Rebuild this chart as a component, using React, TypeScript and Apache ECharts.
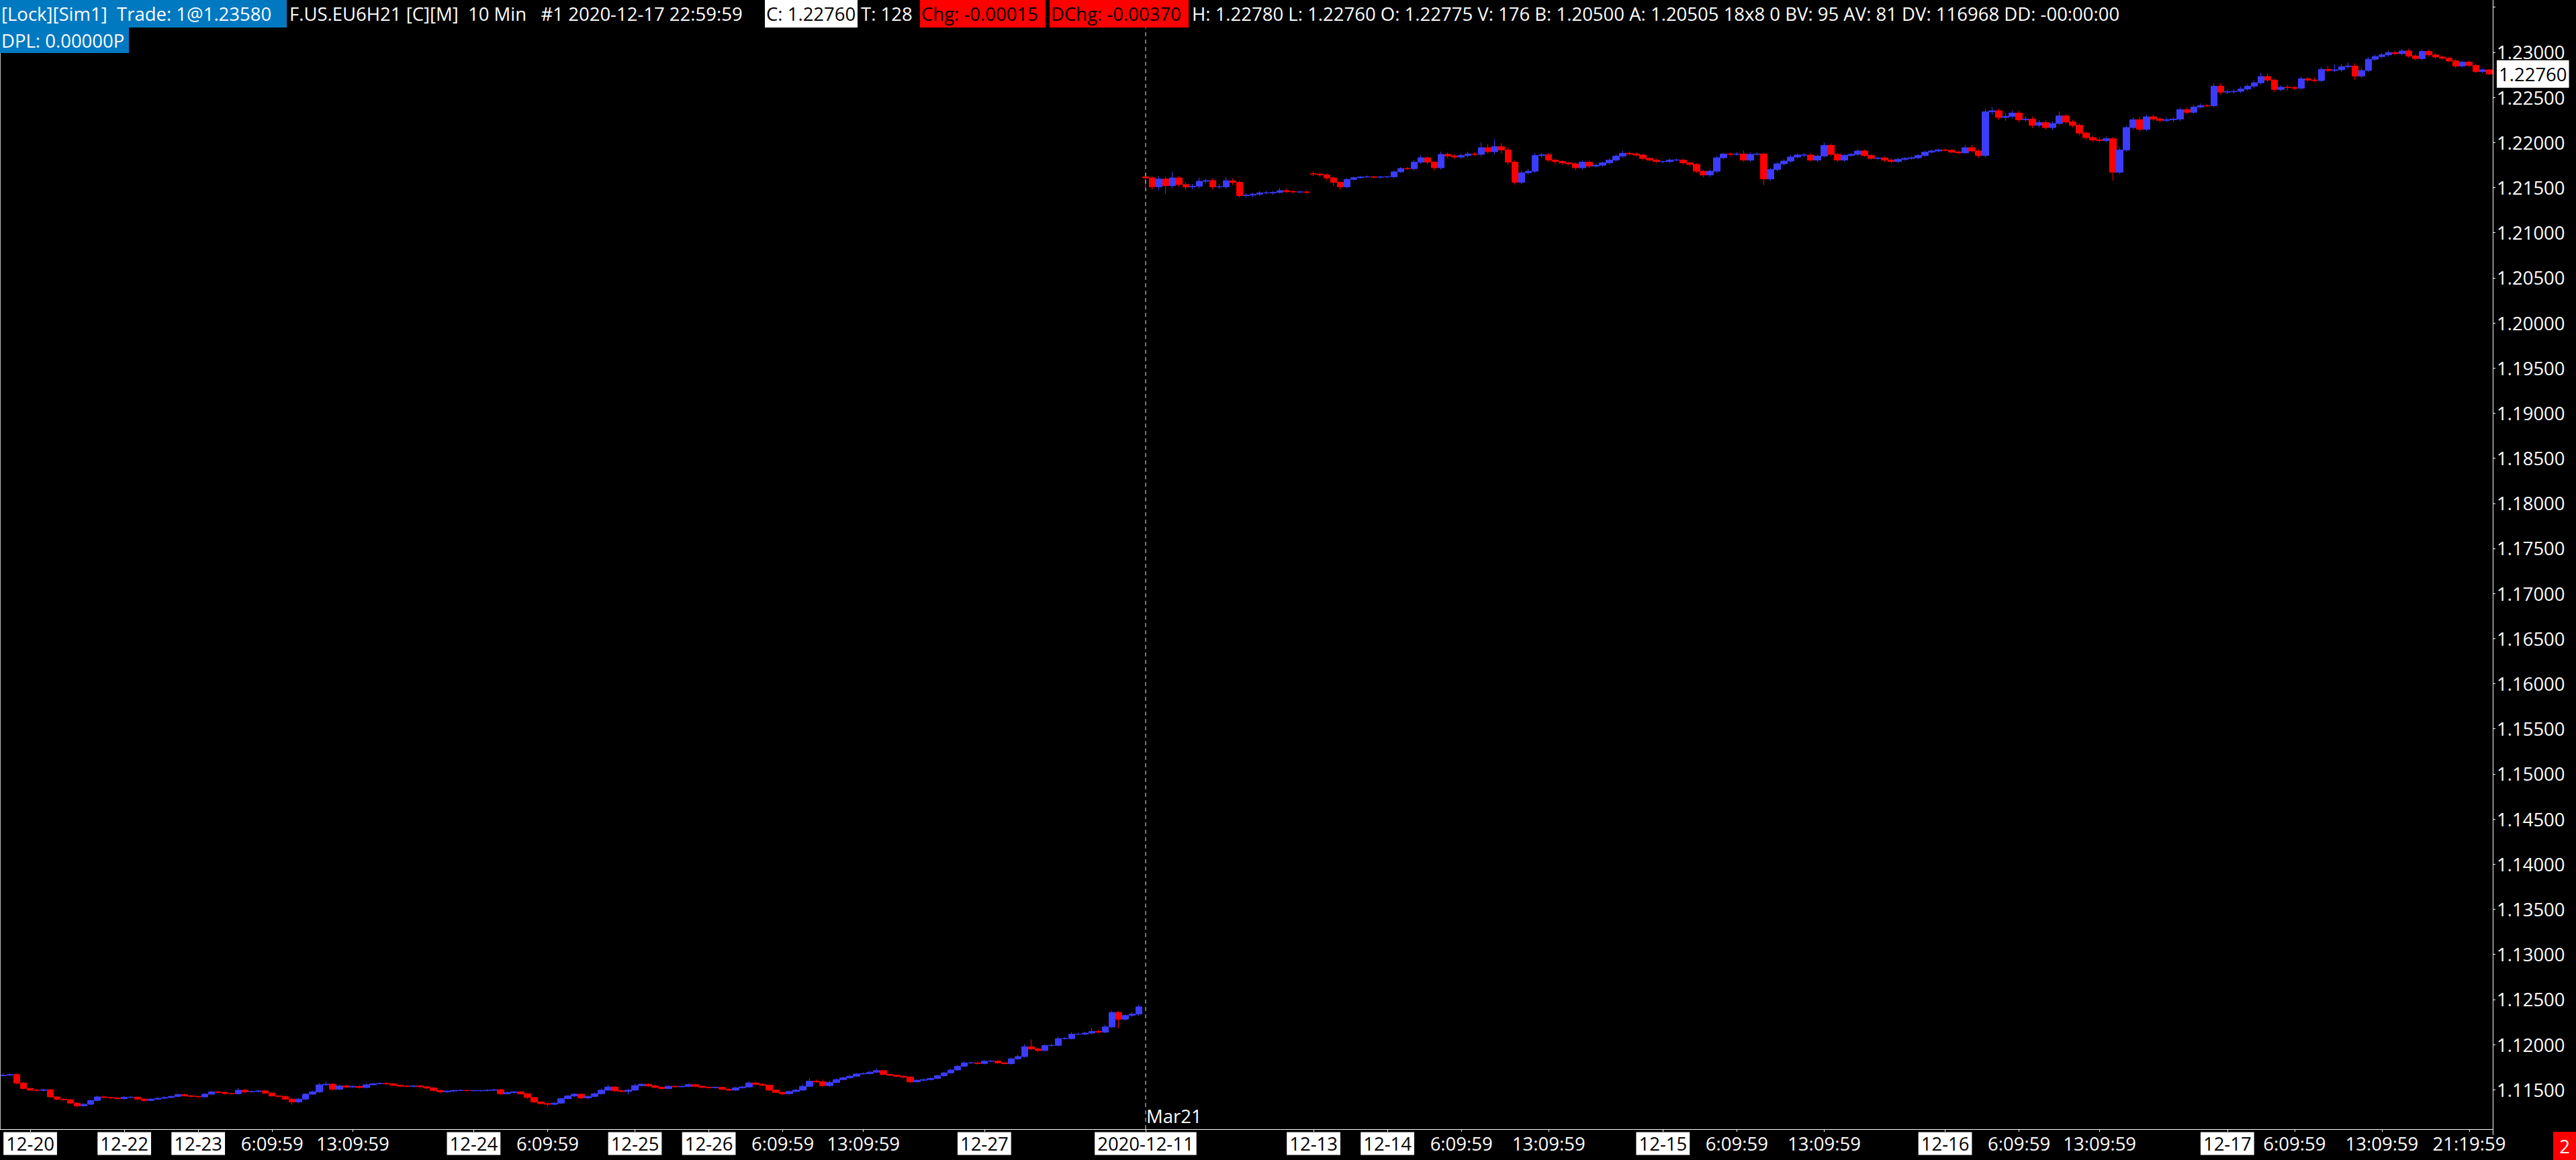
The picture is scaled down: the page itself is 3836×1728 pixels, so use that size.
import React, { useEffect, useRef } from "react";
import * as echarts from "echarts";

const FONT = "'Open Sans', 'DejaVu Sans', sans-serif";
const FS = 27.5;

// Prices in units of 0.00001 above 1.00000 (e.g. 11661 = 1.11661)
const opens = [
  11655,11661,11668,11574,11512,11494,11492,11499,11420,11395,
  11388,11351,11321,11338,11380,11420,11413,11408,11400,11415,
  11417,11395,11380,11395,11405,11413,11425,11445,11432,11425,
  11420,11450,11475,11470,11457,11455,11494,11475,11480,11487,
  11462,11430,11425,11395,11363,11395,11450,11475,11554,11561,
  11504,11541,11529,11537,11524,11554,11566,11569,11564,11549,
  11539,11537,11541,11532,11519,11492,11475,11484,11492,11492,
  11489,11489,11489,11494,11499,11455,11467,11475,11455,11413,
  11363,11346,11338,11351,11400,11430,11450,11408,11425,11455,
  11495,11530,11488,11480,11495,11545,11560,11542,11525,11512,
  11537,11532,11537,11555,11537,11525,11522,11525,11505,11495,
  11520,11530,11574,11560,11550,11495,11470,11455,11480,11495,
  11537,11594,11587,11545,11580,11612,11631,11649,11674,11679,
  11694,11711,11669,11659,11649,11639,11587,11604,11612,11624,
  11654,11686,11718,11760,11797,11797,11790,11815,11817,11797,
  11788,11842,11867,11976,11951,11934,11989,11991,12066,12066,
  12115,12115,12127,12145,12137,12195,12356,12281,12323,12338,
  21620,21608,21509,21596,21521,21608,21534,21509,21516,21571,
  21578,21509,21509,21576,21558,21410,21417,21427,21442,21442,
  21447,21467,21457,21452,21452,21655,21650,21640,21608,21558,
  21509,21591,21610,21618,21620,21615,21618,21620,21675,21712,
  21710,21782,21831,21782,21720,21869,21851,21839,21856,21873,
  21869,21943,21898,21955,21918,21782,21558,21665,21682,21856,
  21864,21806,21789,21774,21764,21720,21782,21739,21749,21774,
  21806,21849,21881,21873,21861,21824,21806,21789,21789,21806,
  21806,21774,21757,21682,21640,21682,21831,21873,21869,21873,
  21806,21869,21873,21596,21700,21764,21794,21839,21861,21861,
  21806,21850,21968,21869,21806,21856,21869,21906,21856,21824,
  21829,21806,21789,21814,21824,21831,21856,21893,21906,21918,
  21913,21893,21886,21943,21906,21856,22340,22352,22278,22290,
  22327,22253,22260,22191,22221,22166,22211,22295,22228,22191,
  22104,22054,22030,22022,22042,21670,21918,22166,22253,22146,
  22285,22260,22246,22253,22260,22365,22335,22394,22409,22407,
  22625,22558,22563,22568,22593,22625,22662,22732,22692,22588,
  22613,22608,22603,22707,22692,22687,22811,22799,22806,22841,
  22848,22737,22799,22923,22953,22972,22997,22985,23015,22960,
  22930,23010,22972,22948,22935,22905,22848,22891,22856,22786,
  22806,
];

const closes = [
  11661,11668,11574,11512,11494,11492,11499,11420,11395,11388,
  11351,11321,11338,11380,11420,11413,11408,11400,11415,11417,
  11395,11380,11395,11405,11413,11425,11445,11432,11425,11420,
  11450,11475,11470,11457,11455,11494,11475,11480,11487,11462,
  11430,11425,11395,11363,11395,11450,11475,11554,11561,11504,
  11541,11529,11537,11524,11554,11566,11569,11564,11549,11539,
  11537,11541,11532,11519,11492,11475,11484,11492,11492,11489,
  11489,11489,11494,11499,11455,11467,11475,11455,11413,11363,
  11346,11338,11351,11400,11430,11450,11408,11425,11455,11495,
  11530,11488,11480,11495,11545,11560,11542,11525,11512,11537,
  11532,11537,11555,11537,11525,11522,11525,11505,11495,11520,
  11530,11574,11560,11550,11495,11470,11455,11480,11495,11537,
  11594,11587,11545,11580,11612,11631,11649,11674,11679,11694,
  11711,11669,11659,11649,11639,11587,11604,11612,11624,11654,
  11686,11718,11760,11797,11797,11790,11815,11817,11797,11788,
  11842,11867,11976,11951,11934,11989,11991,12066,12066,12115,
  12115,12127,12145,12137,12195,12356,12281,12323,12338,12418,
  21608,21509,21596,21521,21608,21534,21509,21516,21571,21578,
  21509,21509,21576,21558,21410,21417,21427,21442,21442,21447,
  21467,21457,21452,21452,21447,21650,21640,21608,21558,21509,
  21591,21610,21618,21620,21615,21618,21620,21675,21712,21710,
  21782,21831,21782,21720,21869,21851,21839,21856,21873,21869,
  21943,21898,21955,21918,21782,21558,21665,21682,21856,21864,
  21806,21789,21774,21764,21720,21782,21739,21749,21774,21806,
  21849,21881,21873,21861,21824,21806,21789,21789,21806,21806,
  21774,21757,21682,21640,21682,21831,21873,21869,21873,21806,
  21869,21873,21596,21700,21764,21794,21839,21861,21861,21806,
  21850,21968,21869,21806,21856,21869,21906,21856,21824,21829,
  21806,21789,21814,21824,21831,21856,21893,21906,21918,21913,
  21893,21886,21943,21906,21856,22340,22352,22278,22290,22327,
  22253,22260,22191,22221,22166,22211,22295,22228,22191,22104,
  22054,22030,22022,22042,21670,21918,22166,22253,22146,22285,
  22260,22246,22253,22260,22365,22335,22394,22409,22407,22625,
  22558,22563,22568,22593,22625,22662,22732,22692,22588,22613,
  22608,22603,22707,22692,22687,22811,22799,22806,22841,22848,
  22737,22799,22923,22953,22972,22997,22985,23015,22960,22930,
  23010,22972,22948,22935,22905,22848,22891,22856,22786,22806,
  22760,
];

// Upper / lower wick lengths (same units)
const highWicks = [
  20,15,10,10,12,15,10,8,10,8,
  8,10,10,8,12,10,8,10,12,10,
  8,8,10,10,12,10,12,10,8,10,
  12,10,10,8,10,25,12,10,12,10,
  10,8,8,10,12,15,15,20,25,10,
  15,10,10,12,15,10,12,10,10,8,
  10,10,8,10,10,8,10,8,10,8,
  8,10,10,12,10,12,10,8,8,8,
  8,10,12,12,10,10,10,12,15,20,
  25,10,15,15,20,12,10,10,10,10,
  10,10,12,10,8,10,10,8,8,12,
  12,20,12,10,8,10,8,10,12,20,
  30,20,25,20,15,15,12,10,12,12,
  25,10,10,8,10,10,10,12,10,12,
  12,15,12,15,10,10,15,12,10,10,
  15,20,30,80,15,15,15,20,15,20,
  15,15,40,20,25,20,15,15,20,25,
  40,20,30,25,70,20,20,25,40,20,
  25,30,40,25,20,20,15,20,20,15,
  30,20,15,15,15,25,15,15,15,12,
  15,12,10,12,10,10,10,12,15,15,
  20,30,15,15,30,20,20,25,25,20,
  60,40,80,40,30,20,25,25,30,20,
  20,20,15,15,15,20,15,15,15,20,
  20,30,20,15,15,15,15,10,20,15,
  15,15,15,15,20,20,15,15,20,40,
  20,15,15,20,20,20,25,20,25,20,
  20,30,20,15,20,15,20,15,15,15,
  15,15,15,15,15,15,15,15,15,15,
  15,15,30,30,25,35,40,25,35,30,
  30,30,30,30,25,25,50,20,25,20,
  20,20,25,25,20,25,20,25,30,25,
  25,20,25,20,20,20,25,25,20,30,
  30,20,20,25,20,25,40,30,20,20,
  25,20,25,20,30,25,35,60,30,40,
  30,35,25,20,20,20,20,20,25,20,
  25,20,20,15,15,20,15,15,15,15,
  10,
];

const lowWicks = [
  10,10,15,12,10,10,12,10,12,10,
  10,15,10,8,8,10,10,8,10,10,
  10,12,8,10,8,8,8,10,10,8,
  8,10,10,10,8,10,12,10,10,10,
  8,10,10,30,10,10,10,8,10,12,
  10,10,8,12,10,8,8,10,10,8,
  10,10,10,12,10,12,8,10,8,10,
  8,8,8,10,12,10,10,10,12,10,
  12,25,10,10,8,10,15,15,10,8,
  10,15,12,35,10,10,10,10,12,10,
  10,8,10,10,10,8,10,10,12,10,
  10,10,10,12,12,10,15,10,10,10,
  10,10,15,10,10,8,8,10,8,10,
  10,10,10,10,10,15,10,10,10,8,
  10,10,10,10,10,12,10,10,12,10,
  10,10,12,15,20,10,15,10,10,10,
  10,10,12,10,12,10,100,15,15,20,
  100,30,40,90,25,30,35,30,20,25,
  30,20,20,30,20,20,25,20,15,20,
  15,20,15,15,15,20,20,25,40,30,
  15,12,10,10,10,12,10,15,12,15,
  20,20,25,30,20,25,20,20,20,20,
  25,25,30,40,30,25,20,20,20,25,
  20,25,20,20,30,20,20,15,20,15,
  15,20,15,15,20,15,15,20,15,15,
  20,20,20,25,20,20,15,20,15,20,
  20,15,70,20,20,20,20,15,20,20,
  20,15,20,20,20,15,20,15,15,20,
  20,20,15,15,15,15,15,15,15,15,
  15,15,15,15,25,20,30,30,35,25,
  30,20,30,25,25,25,20,25,25,25,
  20,25,20,20,95,20,20,25,25,20,
  20,25,20,25,20,20,20,15,15,20,
  25,20,20,20,20,20,20,20,30,20,
  30,20,20,20,20,20,20,20,25,20,
  40,20,20,20,20,20,15,20,20,20,
  20,20,20,15,15,20,15,15,15,15,
  10,
];

// x-axis tick labels: bar index and text
const tickIndex = [4, 18, 29, 40, 52, 70, 81, 94, 105, 116, 128, 146, 170, 195, 206, 217, 230, 247, 258, 271, 289, 300, 312, 331, 341, 354, 367];
const tickText = [
  "12-20", "12-22", "12-23", "6:09:59", "13:09:59", "12-24", "6:09:59", "12-25", "12-26", "6:09:59", "13:09:59", "12-27",
  "2020-12-11", "12-13", "12-14", "6:09:59", "13:09:59", "12-15", "6:09:59", "13:09:59", "12-16", "6:09:59", "13:09:59",
  "12-17", "6:09:59", "13:09:59", "21:19:59",
];

const yMin = 1.11;
const yMax = 1.2358;
const yStep = 0.005;
const lastPrice = 1.2276;
const rolloverIndex = 170;
const rolloverLabel = "Mar21";
const dashTop = 1.2327;
const dashBottom = 1.11063;

const headerTexts = [
  "[Lock][Sim1]  Trade: 1@1.23580",
  "F.US.EU6H21 [C][M]  10 Min   #1 2020-12-17 22:59:59",
  "C: 1.22760",
  "T: 128",
  "Chg: -0.00015",
  "DChg: -0.00370",
  "H: 1.22780 L: 1.22760 O: 1.22775 V: 176 B: 1.20500 A: 1.20505 18x8 0 BV: 95 AV: 81 DV: 116968 DD: -00:00:00",
  "DPL: 0.00000P",
  "2",
];

export default function App() {
  const ref = useRef<HTMLDivElement>(null);
  useEffect(() => {
    document.body.style.margin = "0";
    document.body.style.background = "#000";
    const chart = echarts.init(ref.current as HTMLDivElement, null, { renderer: "svg" });
    const cats = closes.map((_, i) => String(i));
    const data = closes.map((c, i) => {
      const o = opens[i];
      const hi = Math.max(o, c) + highWicks[i];
      const lo = Math.min(o, c) - lowWicks[i];
      return [1 + o / 1e5, 1 + c / 1e5, 1 + lo / 1e5, 1 + hi / 1e5];
    });
    const font = `${FS}px ${FONT}`;
    const txt = (text: string, x: number, y: number, fill: string, extra: any = {}) => ({
      type: "text",
      z: 100,
      style: { text, x, y, fill, font, verticalAlign: "middle", align: "left", ...extra },
    });
    const box = (x: number, y: number, w: number, h: number, fill: string) => ({
      type: "rect",
      z: 99,
      shape: { x, y, width: w, height: h },
      style: { fill },
    });

    const graphicEls: any[] = [
      { type: "line", z: 50, shape: { x1: 0.5, y1: 0, x2: 0.5, y2: 1682 }, style: { stroke: "#bbbbbb", lineWidth: 1 } },
      box(0, 0, 427, 41, "#0079c1"),
      box(1139, 0, 138, 41, "#ffffff"),
      box(1370, 0, 187, 41, "#ff0000"),
      box(1563, 0, 207, 41, "#ff0000"),
      box(0, 41, 192, 38, "#0079c1"),
      box(3802, 1686, 34, 42, "#ff0000"),
      txt(headerTexts[0], 2, 20.5, "#fff"),
      txt(headerTexts[1], 431, 20.5, "#fff"),
      txt(headerTexts[2], 1141, 20.5, "#000"),
      txt(headerTexts[3], 1282, 20.5, "#fff"),
      txt(headerTexts[4], 1372, 20.5, "#000"),
      txt(headerTexts[5], 1565, 20.5, "#000"),
      txt(headerTexts[6], 1775, 20.5, "#fff"),
      txt(headerTexts[7], 2, 60, "#fff"),
      txt(headerTexts[8], 3819, 1707, "#fff", { align: "center" }),
      txt(rolloverLabel, 1707, 1662, "#fff"),
    ];

    const option: any = {
      animation: false,
      backgroundColor: "#000",
      textStyle: { fontFamily: FONT },
      grid: { left: 0, right: 124, top: 0, bottom: 37.6, containLabel: false },
      xAxis: {
        type: "category",
        data: cats,
        boundaryGap: true,
        offset: -8.4,
        axisLine: { show: true, lineStyle: { color: "#fff", width: 1 } },
        axisTick: {
          show: true,
          alignWithLabel: true,
          length: 4,
          interval: (i: number) => tickIndex.includes(i),
          lineStyle: { color: "#fff" },
        },
        axisLabel: {
          interval: 0,
          margin: 4,
          fontFamily: FONT,
          fontSize: FS,
          formatter: (value: string, index: number) => {
            const k = tickIndex.indexOf(index);
            if (k < 0) return "";
            const t = tickText[k];
            return t.includes("-") ? `{d|${t}}` : `{t|${t}}`;
          },
          rich: {
            d: {
              backgroundColor: "#fff",
              color: "#000",
              padding: [3, 4, 3, 4],
              lineHeight: 35,
              fontSize: FS,
              fontFamily: FONT,
            },
            t: {
              color: "#fff",
              padding: [3, 4, 3, 4],
              lineHeight: 35,
              fontSize: FS,
              fontFamily: FONT,
            },
          },
        },
        splitLine: { show: false },
      },
      yAxis: {
        type: "value",
        position: "right",
        min: yMin,
        max: yMax,
        interval: yStep,
        axisLine: { show: true, lineStyle: { color: "#fff", width: 1 } },
        axisTick: { show: true, length: 4, lineStyle: { color: "#fff" } },
        axisLabel: {
          color: "#fff",
          fontSize: FS,
          fontFamily: FONT,
          margin: 6,
          showMinLabel: false,
          showMaxLabel: false,
          formatter: (v: number) => (v < 1.1125 || v > 1.2325 ? "" : v.toFixed(5)),
        },
        splitLine: { show: false },
      },
      series: [
        {
          type: "candlestick",
          data,
          barWidth: 10,
          itemStyle: {
            color: "#3c3cff",
            borderColor: "#3c3cff",
            color0: "#ff0000",
            borderColor0: "#ff0000",
            borderWidth: 1,
          },
          markLine: {
            silent: true,
            symbol: ["none", "none"],
            animation: false,
            label: { show: false },
            data: [
              [
                {
                  coord: [String(rolloverIndex), dashBottom],
                  lineStyle: { color: "#9a9a9a", width: 1.5, type: [6, 5] },
                },
                { coord: [String(rolloverIndex), dashTop] },
              ],
            ],
          },
        },
      ],
      graphic: graphicEls,
    };
    chart.setOption(option);

    // current price tag on the price scale, positioned through the y axis
    const py = chart.convertToPixel({ yAxisIndex: 0 }, lastPrice) as number;
    const px = (chart.convertToPixel({ xAxisIndex: 0 }, String(closes.length - 1)) as number) + 11;
    chart.setOption({
      graphic: [
        ...graphicEls,
        {
          type: "text",
          z: 100,
          style: {
            text: lastPrice.toFixed(5),
            x: px,
            y: py,
            fill: "#000",
            font,
            verticalAlign: "middle",
            align: "left",
            backgroundColor: "#fff",
            padding: [2, 3, 2, 3],
            lineHeight: 37,
          },
        },
      ],
    });
    return () => chart.dispose();
  }, []);
  return (
    <div
      ref={ref}
      style={{ position: "fixed", left: 0, top: 0, width: 3836, height: 1728, background: "#000" }}
    />
  );
}
